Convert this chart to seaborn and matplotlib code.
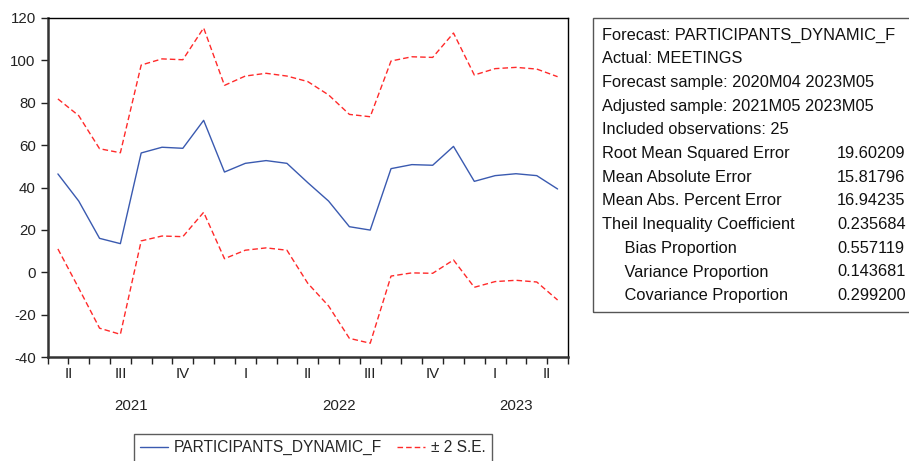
import numpy as np
import pandas as pd
import matplotlib
matplotlib.use("Agg")
import matplotlib.pyplot as plt
from matplotlib.lines import Line2D
from matplotlib.patches import Rectangle
import seaborn as sns

# forecast sample 2021M05 .. 2023M05
start, end = "2021-05", "2023-05"

forecast = [46.4, 33.6, 16.0, 13.5, 56.3, 59.0, 58.5, 71.7,
            47.3, 51.4, 52.7, 51.4, 42.3, 33.6, 21.5, 19.9, 48.9, 50.8, 50.5, 59.4,
            42.9, 45.6, 46.5, 45.6, 39.3]
upper = [81.8, 73.9, 58.3, 56.4, 97.8, 100.7, 100.3, 115.3,
         88.2, 92.6, 93.9, 92.6, 90.0, 83.7, 74.5, 73.4, 99.7, 101.7, 101.4, 112.9,
         93.1, 96.1, 96.7, 95.9, 92.3]
lower = [11.0, -7.5, -26.4, -29.3, 14.8, 17.1, 16.8, 28.3,
         6.4, 10.4, 11.5, 10.4, -5.2, -15.9, -31.2, -33.5, -1.8, -0.3, -0.5, 5.8,
         -7.1, -4.4, -3.8, -4.6, -13.1]

stats_labels = ["Forecast: PARTICIPANTS_DYNAMIC_F", "Actual: MEETINGS",
                "Forecast sample: 2020M04 2023M05", "Adjusted sample: 2021M05 2023M05",
                "Included observations: 25", "Root Mean Squared Error",
                "Mean Absolute Error", "Mean Abs. Percent Error",
                "Theil Inequality Coefficient", "     Bias Proportion",
                "     Variance Proportion", "     Covariance Proportion"]
stats_values = ["", "", "", "", "", "19.60209", "15.81796", "16.94235",
                "0.235684", "0.557119", "0.143681", "0.299200"]

quarter_names = {1: "I", 2: "II", 3: "III", 4: "IV"}

BLUE = "#3A5AB0"
RED = "#FF2A2A"

months = pd.period_range(start, end, freq="M")
pos = np.arange(len(months))
df = pd.DataFrame({"pos": np.tile(pos, 3),
                   "value": forecast + upper + lower,
                   "band": ["forecast"] * len(pos) + ["upper"] * len(pos) + ["lower"] * len(pos)})

sns.set_style("white")
plt.rcParams["font.family"] = ["Liberation Sans", "DejaVu Sans"]
plt.rcParams["axes.unicode_minus"] = False

W, H = 909, 461
fig = plt.figure(figsize=(W / 100, H / 100), dpi=100)
ax = fig.add_axes([47.5 / W, 1 - 357 / H, (568 - 47.5) / W, (357 - 18) / H])

sns.lineplot(data=df, x="pos", y="value", hue="band", style="band",
             palette={"forecast": BLUE, "upper": RED, "lower": RED},
             dashes={"forecast": "", "upper": (4, 2.2), "lower": (4, 2.2)},
             linewidth=1.0, legend=False, ax=ax)

ax.set_xlim(-0.5, len(months) - 0.5)
ax.set_ylim(-40, 120)
ax.set_yticks(np.arange(-40, 121, 20))
ax.set_xlabel("")
ax.set_ylabel("")
ax.tick_params(axis="y", direction="out", length=5, width=1, labelsize=10.8,
               left=True, colors="#222222")

# month ticks, longer ones at quarter boundaries
bounds = np.arange(len(months) + 1) - 0.5
ax.set_xticks(bounds)
ax.set_xticklabels([])
ax.tick_params(axis="x", direction="out", length=5, width=1, bottom=True, colors="#222222")
qb = [b for b, m in zip(bounds[1:-1], months[1:]) if m.month in (1, 4, 7, 10)]
ax.set_xticks(qb, minor=True)
ax.tick_params(axis="x", which="minor", direction="out", length=8, width=1.2, bottom=True,
               colors="#222222")

for side in ["top", "right"]:
    ax.spines[side].set_linewidth(1.0)
    ax.spines[side].set_color("black")
for side in ["left", "bottom"]:
    ax.spines[side].set_linewidth(1.8)
    ax.spines[side].set_color("#333333")

# quarter and year labels
trans = ax.get_xaxis_transform()
q_index = pd.Series(pos, index=months).groupby([months.year, months.quarter])
for (yr, q), idx in q_index:
    c = (idx.min() - 0.5 + idx.max() + 0.5) / 2
    ax.text(c, -0.05, quarter_names[q], transform=trans, ha="center", va="center",
            fontsize=10.8, color="#222222")
for yr, idx in pd.Series(pos, index=months).groupby(months.year):
    c = (idx.min() - 0.5 + idx.max() + 0.5) / 2
    ax.text(c, -0.145, str(yr), transform=trans, ha="center", va="center",
            fontsize=10.8, color="#222222")

# statistics box
fig.patches.append(Rectangle((593 / W, 1 - 312 / H), 0.5, (312 - 18) / H,
                             transform=fig.transFigure, fill=False,
                             edgecolor="#555555", linewidth=1.0))
for i, (lab, val) in enumerate(zip(stats_labels, stats_values)):
    y = 1 - (35 + i * 23.7) / H
    fig.text(602 / W, y, lab, ha="left", va="center", fontsize=11.8, color="#111111")
    if val:
        fig.text(837 / W, y, val, ha="left", va="center", fontsize=11.8, color="#111111")

# legend (bottom edge runs off the figure, as in the original)
handles = [Line2D([], [], color=BLUE, linewidth=1.0),
           Line2D([], [], color=RED, linewidth=1.0, dashes=(4, 2.2))]
leg = fig.legend(handles, ["PARTICIPANTS_DYNAMIC_F", "\u00b1 2 S.E."],
                 loc="upper left", bbox_to_anchor=(134 / W, 1 - 434 / H),
                 ncol=2, frameon=True, fancybox=False, fontsize=11.2,
                 handlelength=1.8, handletextpad=0.35, columnspacing=1.0,
                 borderpad=0.4, borderaxespad=0)
leg.get_frame().set_edgecolor("#333333")
leg.get_frame().set_linewidth(1.0)

fig.savefig("out.png", dpi=100)
